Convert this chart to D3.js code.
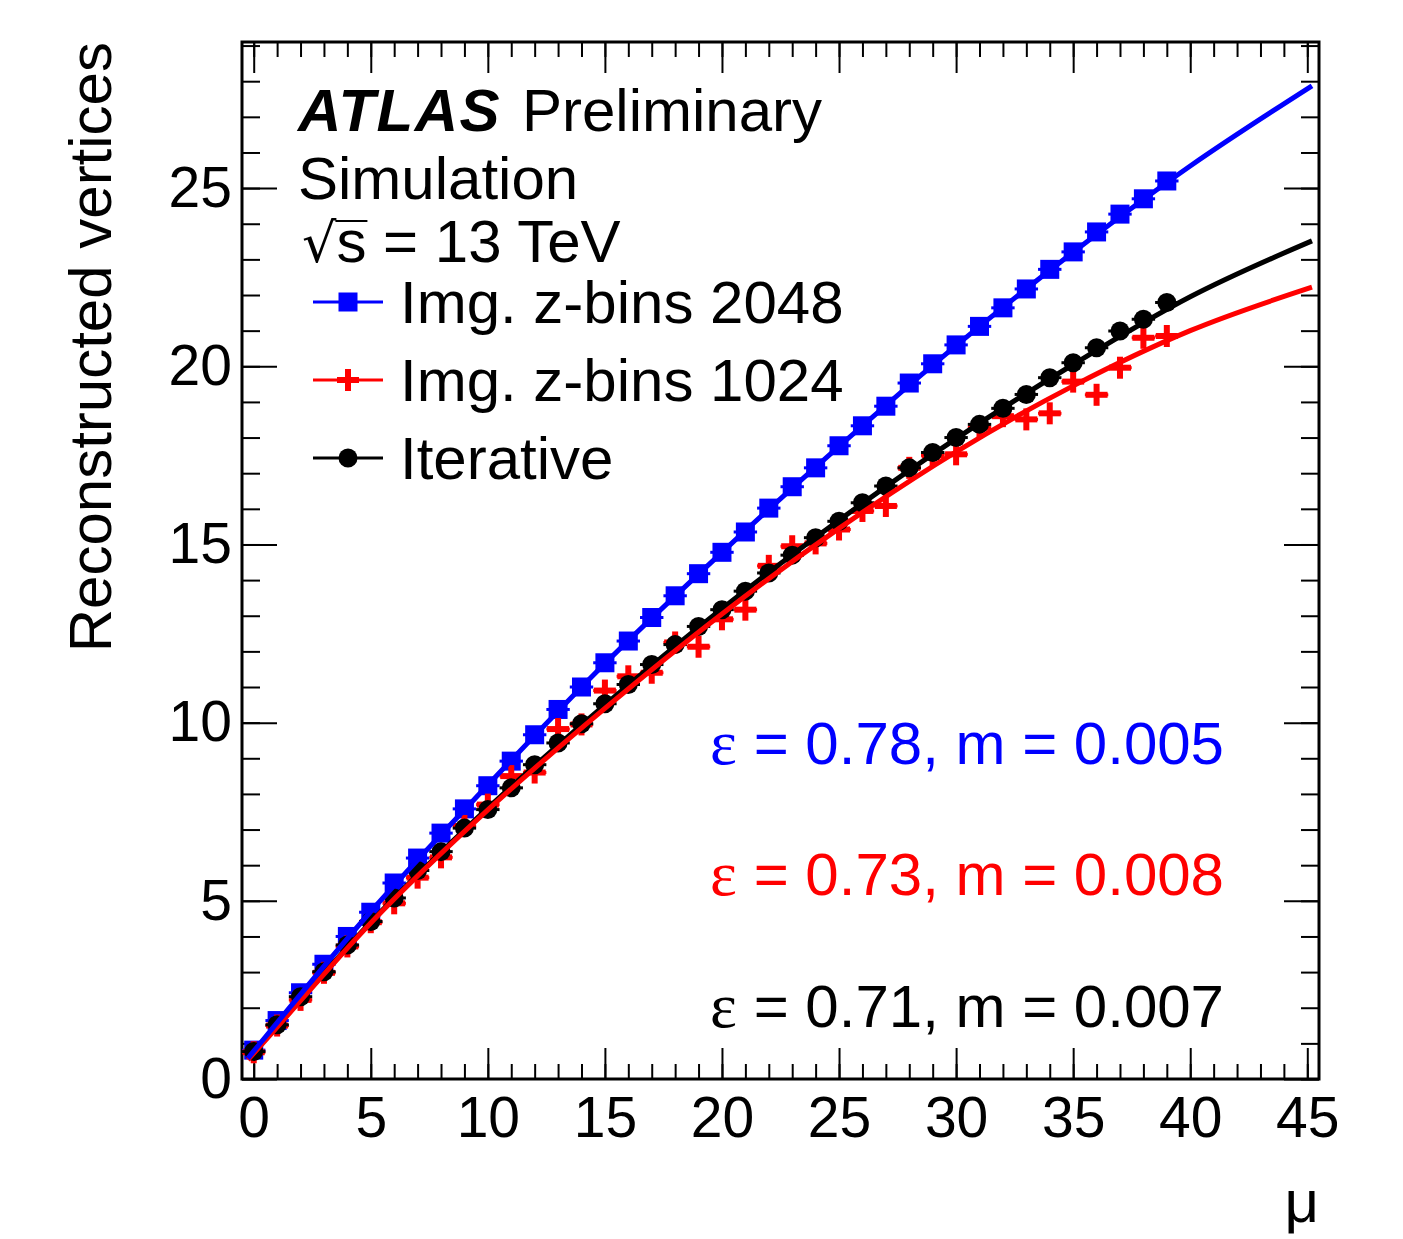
<!DOCTYPE html>
<html>
<head>
<meta charset="utf-8">
<script src="https://cdn.jsdelivr.net/npm/d3@7"></script>
<style>
  html, body { margin: 0; padding: 0; background: #fff; }
  svg { display: block; }
  text { font-family: "Liberation Sans", Arial, Helvetica, sans-serif; }
</style>
</head>
<body>
<svg id="chart" width="1403" height="1239"></svg>
<script>
// ---------------- data ----------------
const mu = d3.range(0, 40); // 0..39
const bins2048 = [0.81,1.64,2.42,3.22,4.00,4.68,5.50,6.20,6.90,7.58,8.23,8.92,9.66,10.37,11.00,11.68,12.29,12.95,13.56,14.18,14.78,15.35,16.02,16.62,17.15,17.77,18.33,18.88,19.53,20.07,20.60,21.12,21.64,22.17,22.72,23.21,23.77,24.27,24.70,25.20];
const bins1024 = [0.75,1.50,2.22,2.98,3.72,4.40,4.93,5.65,6.22,7.10,7.70,8.50,8.60,9.82,9.95,10.90,11.30,11.40,12.25,12.13,12.90,13.17,14.40,14.95,15.03,15.42,15.94,16.08,17.15,17.50,17.53,18.28,18.60,18.51,18.68,19.57,19.20,19.96,20.80,20.85];
const iterative = [0.77,1.52,2.31,3.01,3.76,4.42,5.08,5.85,6.38,7.04,7.56,8.17,8.82,9.43,9.97,10.53,11.07,11.63,12.19,12.70,13.17,13.69,14.20,14.70,15.19,15.65,16.17,16.64,17.15,17.58,18.00,18.37,18.82,19.21,19.68,20.10,20.52,20.99,21.32,21.79];

// fit curves
const fitMu = [-0.25, 0, 5, 10, 15, 20, 25, 30, 35, 40, 45.2];
const fit2048 = [0.58, 0.78, 4.70, 8.25, 11.66, 14.78, 17.75, 20.58, 23.20, 25.62, 27.87];
const fit1024 = [0.54, 0.72, 4.38, 7.55, 10.40, 13.05, 15.45, 17.60, 19.45, 21.00, 22.22];
const fitIter = [0.57, 0.75, 4.40, 7.60, 10.50, 13.20, 15.68, 17.97, 20.05, 21.95, 23.52];

const xMajor = [0, 5, 10, 15, 20, 25, 30, 35, 40, 45];
const yMajor = [0, 5, 10, 15, 20, 25];

const legendLabels = ["Img. z-bins 2048", "Img. z-bins 1024", "Iterative"];
const fitLabels = [
  {eps: "0.78", m: "0.005"},
  {eps: "0.73", m: "0.008"},
  {eps: "0.71", m: "0.007"}
];

// ---------------- layout ----------------
const svg = d3.select("#chart");
const L = 242, R = 1319, T = 42, B = 1079;
const x = d3.scaleLinear().domain([-0.5, 45.5]).range([L, R]);
const y = d3.scaleLinear().domain([0, 29.1]).range([B, T]);
const BLUE = "#0000ff", RED = "#ff0000", BLACK = "#000000";
const tickFont = 57, textFont = 60;

// ---------------- axes ----------------
function styleAxis(g, withText) {
  g.select(".domain").remove();
  g.selectAll(".tick line").attr("stroke", "#000").attr("stroke-width", 2);
  if (withText) {
    g.selectAll(".tick text").attr("font-size", tickFont).attr("fill", "#000")
      .attr("font-family", '"Liberation Sans", Arial, sans-serif');
  } else {
    g.selectAll(".tick text").remove();
  }
}
const xMinor = d3.range(0, 46);
const yMinor = d3.range(0, 30).filter(v => v <= 29.1);

// bottom
svg.append("g").attr("transform", `translate(0,${B})`)
  .call(d3.axisBottom(x).tickValues(xMinor).tickSize(-15).tickFormat(""))
  .call(g => styleAxis(g, false));
svg.append("g").attr("transform", `translate(0,${B})`)
  .call(d3.axisBottom(x).tickValues(xMajor).tickSize(-31).tickPadding(18).tickFormat(d3.format("d")))
  .call(g => styleAxis(g, true));
// top
svg.append("g").attr("transform", `translate(0,${T})`)
  .call(d3.axisTop(x).tickValues(xMinor).tickSize(-15).tickFormat(""))
  .call(g => styleAxis(g, false));
svg.append("g").attr("transform", `translate(0,${T})`)
  .call(d3.axisTop(x).tickValues(xMajor).tickSize(-31).tickFormat(""))
  .call(g => styleAxis(g, false));
// left
svg.append("g").attr("transform", `translate(${L},0)`)
  .call(d3.axisLeft(y).tickValues(yMinor).tickSize(-18).tickFormat(""))
  .call(g => styleAxis(g, false));
svg.append("g").attr("transform", `translate(${L},0)`)
  .call(d3.axisLeft(y).tickValues(yMajor).tickSize(-35).tickPadding(10).tickFormat(d3.format("d")))
  .call(g => styleAxis(g, true));
// right
svg.append("g").attr("transform", `translate(${R},0)`)
  .call(d3.axisRight(y).tickValues(yMinor).tickSize(-18).tickFormat(""))
  .call(g => styleAxis(g, false));
svg.append("g").attr("transform", `translate(${R},0)`)
  .call(d3.axisRight(y).tickValues(yMajor).tickSize(-35).tickFormat(""))
  .call(g => styleAxis(g, false));

// frame
svg.append("rect").attr("x", L).attr("y", T).attr("width", R - L).attr("height", B - T)
  .attr("fill", "none").attr("stroke", "#000").attr("stroke-width", 3);

// axis titles
svg.append("text").attr("transform", `translate(111,${T}) rotate(-90)`)
  .attr("text-anchor", "end").attr("font-size", textFont).text("Reconstructed vertices");
svg.append("text").attr("x", R).attr("y", 1222).attr("text-anchor", "end")
  .attr("font-size", textFont).text("μ");

// ---------------- markers ----------------
function drawSquare(g, cx, cy, color, s) {
  g.append("rect").attr("x", cx - s / 2).attr("y", cy - s / 2).attr("width", s).attr("height", s).attr("fill", color);
}
function drawCircle(g, cx, cy, color, r) {
  g.append("circle").attr("cx", cx).attr("cy", cy).attr("r", r).attr("fill", color);
}
function drawCross(g, cx, cy, color, s, w) {
  g.append("rect").attr("x", cx - s / 2).attr("y", cy - w / 2).attr("width", s).attr("height", w).attr("fill", color);
  g.append("rect").attr("x", cx - w / 2).attr("y", cy - s / 2).attr("width", w).attr("height", s).attr("fill", color);
}

const series = [
  {vals: bins2048, color: BLUE, marker: "square"},
  {vals: bins1024, color: RED, marker: "cross"},
  {vals: iterative, color: BLACK, marker: "circle"}
];

const pts = svg.append("g");
series.forEach(s => {
  const g = pts.append("g");
  mu.forEach((m, i) => {
    const v = s.vals[i];
    g.append("line").attr("x1", x(m - 0.5)).attr("x2", x(m + 0.5))
      .attr("y1", y(v)).attr("y2", y(v)).attr("stroke", s.color).attr("stroke-width", 3);
    if (s.marker === "square") drawSquare(g, x(m), y(v), s.color, 19);
    else if (s.marker === "circle") drawCircle(g, x(m), y(v), s.color, 9.5);
    else drawCross(g, x(m), y(v), s.color, 22, 6);
  });
});

// ---------------- fit curves ----------------
const fits = [
  {vals: fitIter, color: BLACK},
  {vals: fit1024, color: RED},
  {vals: fit2048, color: BLUE}
];
const lineGen = d3.line().x(d => x(d[0])).y(d => y(d[1])).curve(d3.curveMonotoneX);
fits.forEach(f => {
  svg.append("path").attr("d", lineGen(fitMu.map((m, i) => [m, f.vals[i]])))
    .attr("fill", "none").attr("stroke", f.color).attr("stroke-width", 5);
});

// ---------------- labels ----------------
svg.append("text").attr("x", 298).attr("y", 131).attr("font-size", textFont)
  .attr("font-weight", "bold").attr("font-style", "italic").attr("letter-spacing", 1.5).text("ATLAS");
svg.append("text").attr("x", 522).attr("y", 131).attr("font-size", textFont).text("Preliminary");
svg.append("text").attr("x", 298).attr("y", 199).attr("font-size", textFont).text("Simulation");
const sq = svg.append("text").attr("x", 302).attr("y", 262).attr("font-size", textFont);
sq.append("tspan").attr("font-family", '"DejaVu Sans", sans-serif').attr("font-size", 54).text("√");
sq.append("tspan").text("s");
sq.append("tspan").text(" = 13 TeV");
// bar of the radical over "s"
{
  const node = sq.node();
  const s0 = node.getStartPositionOfChar(1).x;
  const s1 = node.getEndPositionOfChar(1).x;
  svg.append("line").attr("x1", s0 - 1).attr("x2", s1 + 1).attr("y1", 221).attr("y2", 221)
    .attr("stroke", "#000").attr("stroke-width", 2);
}

// legend
const legY = [302, 380, 458];
const legSeries = [
  {color: BLUE, marker: "square"},
  {color: RED, marker: "cross"},
  {color: BLACK, marker: "circle"}
];
legSeries.forEach((s, i) => {
  const g = svg.append("g");
  g.append("line").attr("x1", 313).attr("x2", 383).attr("y1", legY[i]).attr("y2", legY[i])
    .attr("stroke", s.color).attr("stroke-width", 3);
  if (s.marker === "square") drawSquare(g, 348, legY[i], s.color, 19);
  else if (s.marker === "circle") drawCircle(g, 348, legY[i], s.color, 9.5);
  else drawCross(g, 348, legY[i], s.color, 22, 6);
  g.append("text").attr("x", 400).attr("y", legY[i] + 21).attr("font-size", textFont).text(legendLabels[i]);
});

// fit parameter labels
const fitY = [764, 895, 1027];
const fitColors = [BLUE, RED, BLACK];
fitLabels.forEach((f, i) => {
  const t = svg.append("text").attr("x", 1224).attr("y", fitY[i]).attr("text-anchor", "end")
    .attr("font-size", textFont).attr("fill", fitColors[i]);
  t.append("tspan").attr("font-family", '"Liberation Serif", serif').attr("font-size", 64).text("ε");
  t.append("tspan").text(` = ${f.eps}, m = ${f.m}`);
});
</script>
</body>
</html>
